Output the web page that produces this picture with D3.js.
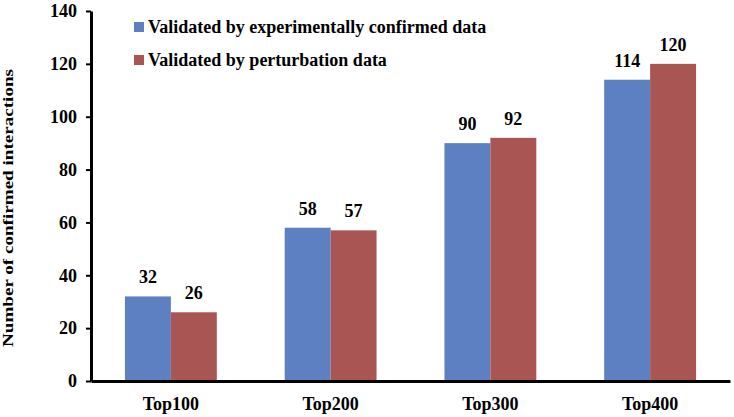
<!DOCTYPE html>
<html>
<head>
<meta charset="utf-8">
<script src="https://cdn.jsdelivr.net/npm/d3@7"></script>
</head>
<body style="margin:0">
<div id="chart"></div>
<script>
var categories = ["Top100", "Top200", "Top300", "Top400"];
var seriesNames = ["Validated by experimentally confirmed data", "Validated by perturbation data"];
var experimental = [32, 58, 90, 114];
var perturbation = [26, 57, 92, 120];
var yTicks = [0, 20, 40, 60, 80, 100, 120, 140];

var colors = ["#5d80c2", "#a85553"];
var serif = "Liberation Serif";

var width = 734, height = 417;
var margin = { top: 11, right: 4, bottom: 36, left: 91 };
var innerW = width - margin.left - margin.right,
    innerH = height - margin.top - margin.bottom;

var data = categories.map(function(c, i) {
  return { cat: c, values: [experimental[i], perturbation[i]] };
});

var svg = d3.select("#chart").append("svg")
  .attr("width", width)
  .attr("height", height)
  .attr("font-family", serif)
  .attr("font-weight", "bold");

var g = svg.append("g")
  .attr("transform", "translate(" + margin.left + "," + margin.top + ")");

var x0 = d3.scaleBand()
  .domain(categories)
  .range([0, innerW])
  .paddingInner(0.425)
  .paddingOuter(0.2125);

var x1 = d3.scaleBand()
  .domain([0, 1])
  .range([0, x0.bandwidth()]);

var y = d3.scaleLinear()
  .domain([0, 140])
  .range([innerH, 0]);

// bars
var groups = g.selectAll(".group")
  .data(data)
  .enter().append("g")
  .attr("transform", function(d) { return "translate(" + x0(d.cat) + ",0)"; });

groups.selectAll("rect")
  .data(function(d) { return d.values; })
  .enter().append("rect")
  .attr("x", function(d, i) { return x1(i); })
  .attr("y", function(d) { return y(d); })
  .attr("width", x1.bandwidth())
  .attr("height", function(d) { return innerH - y(d); })
  .attr("fill", function(d, i) { return colors[i]; });

// value labels
groups.selectAll(".val")
  .data(function(d) { return d.values; })
  .enter().append("text")
  .attr("x", function(d, i) { return x1(i) + x1.bandwidth() / 2; })
  .attr("y", function(d) { return y(d) - 13; })
  .attr("text-anchor", "middle")
  .attr("font-family", serif)
  .attr("font-weight", "bold")
  .attr("font-size", 18)
  .text(function(d) { return d; });

// y axis
var yAxis = g.append("g")
  .call(d3.axisLeft(y).tickValues(yTicks).tickSize(5).tickSizeOuter(0).tickPadding(9));
yAxis.attr("font-family", serif).attr("font-size", 18).attr("font-weight", "bold");
yAxis.select(".domain").attr("stroke", "#000").attr("stroke-width", 3);
yAxis.selectAll(".tick line").attr("stroke", "#000").attr("stroke-width", 2);
yAxis.selectAll(".tick text").attr("fill", "#000");

// x axis
var xAxis = g.append("g")
  .attr("transform", "translate(0," + innerH + ")")
  .call(d3.axisBottom(x0).tickSize(0).tickSizeOuter(0).tickPadding(16));
xAxis.attr("font-family", serif).attr("font-size", 18).attr("font-weight", "bold");
xAxis.select(".domain").attr("stroke", "#000").attr("stroke-width", 3);
xAxis.selectAll(".tick text").attr("fill", "#000");

// y axis title
svg.append("text")
  .attr("transform", "translate(13,208) rotate(-90)")
  .attr("text-anchor", "middle")
  .attr("font-family", serif)
  .attr("font-weight", "bold")
  .attr("font-size", 15)
  .attr("textLength", 278)
  .attr("lengthAdjust", "spacingAndGlyphs")
  .text("Number of confirmed interactions");

// legend
var legend = svg.selectAll(".legend")
  .data(seriesNames)
  .enter().append("g")
  .attr("transform", function(d, i) { return "translate(134," + (22 + i * 33) + ")"; });

legend.append("rect")
  .attr("width", 10)
  .attr("height", 10)
  .attr("fill", function(d, i) { return colors[i]; });

legend.append("text")
  .attr("x", 14)
  .attr("y", 11)
  .attr("font-family", serif)
  .attr("font-weight", "bold")
  .attr("font-size", 18)
  .text(function(d) { return d; });
</script>
</body>
</html>
